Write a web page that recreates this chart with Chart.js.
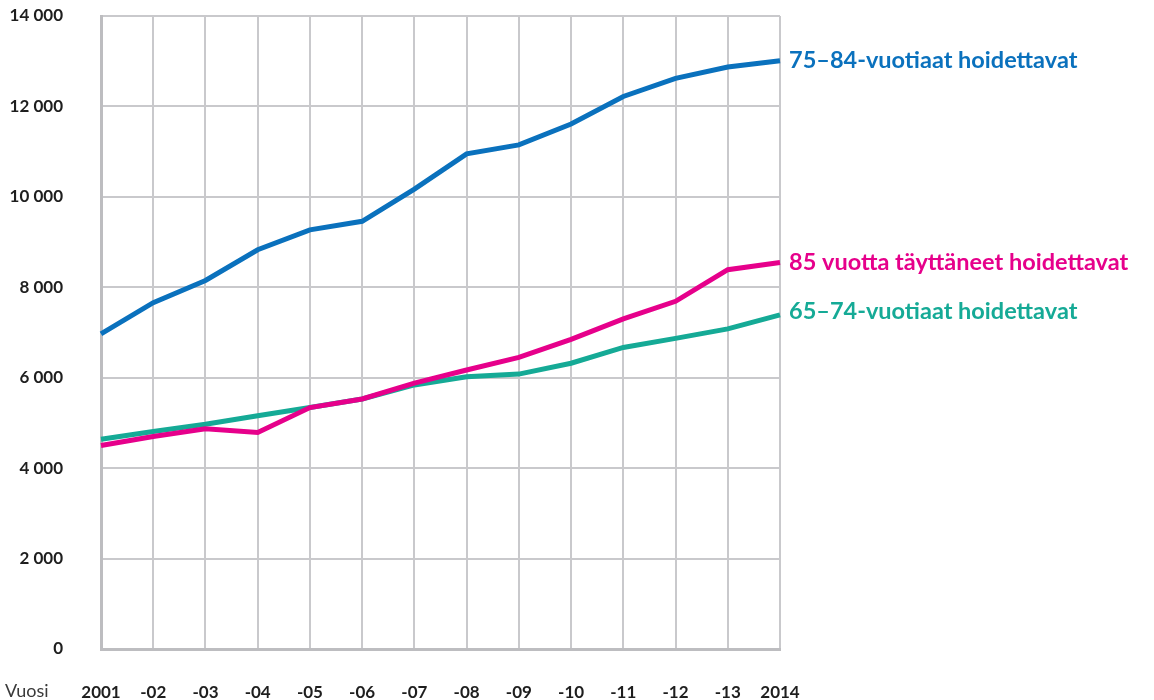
<!DOCTYPE html>
<html>
<head>
<meta charset="utf-8">
<script src="https://cdn.jsdelivr.net/npm/chart.js@4/dist/chart.umd.min.js"></script>
<style>
  html, body { margin: 0; padding: 0; background: #ffffff; }
  #wrap { width: 1154px; height: 700px; }
</style>
</head>
<body>
<div id="wrap"><canvas id="c" width="1154" height="700"></canvas></div>
<script>
const years = ['2001','-02','-03','-04','-05','-06','-07','-08','-09','-10','-11','-12','-13','2014'];
const seriesNames = ['75–84-vuotiaat hoidettavat', '85 vuotta täyttäneet hoidettavat', '65–74-vuotiaat hoidettavat'];
const age75to84 = [6970, 7660, 8150, 8830, 9270, 9460, 10170, 10950, 11150, 11610, 12220, 12620, 12870, 13010];
const age85plus = [4500, 4700, 4870, 4790, 5340, 5530, 5880, 6170, 6450, 6850, 7300, 7690, 8390, 8550];
const age65to74 = [4640, 4810, 4970, 5160, 5340, 5530, 5840, 6020, 6080, 6320, 6670, 6870, 7080, 7390];
const yTicks = [0, 2000, 4000, 6000, 8000, 10000, 12000, 14000];
const axisTitle = 'Vuosi';

const colors = ['#0a71bd', '#e6008b', '#15aa96'];
const FONT = 'Lato, "Open Sans", sans-serif';

function fmt(v) {
  if (v === 0) return '0';
  const s = String(v);
  return s.slice(0, s.length - 3) + ' ' + s.slice(-3);
}

const labelPlugin = {
  id: 'endLabels',
  afterDatasetsDraw(chart) {
    const ctx = chart.ctx;
    ctx.save();
    ctx.font = 'bold 23.5px ' + FONT;
    ctx.textBaseline = 'middle';
    ctx.textAlign = 'left';
    chart.data.datasets.forEach((ds, i) => {
      const meta = chart.getDatasetMeta(i);
      const pt = meta.data[meta.data.length - 1];
      ctx.fillStyle = ds.borderColor;
      ctx.fillText(ds.label, pt.x + 9, pt.y + (ds.labelShift || 0));
    });
    const xs = chart.scales.x;
    ctx.font = '18px ' + FONT;
    ctx.fillStyle = '#3a3a3a';
    ctx.textBaseline = 'middle';
    ctx.fillText(axisTitle, 5, xs.top + 33 + 9);
    ctx.restore();
  }
};

new Chart(document.getElementById('c'), {
  type: 'line',
  data: {
    labels: years,
    datasets: [
      { label: seriesNames[0], data: age75to84, borderColor: colors[0], backgroundColor: colors[0], labelShift: 0 },
      { label: seriesNames[1], data: age85plus, borderColor: colors[1], backgroundColor: colors[1], labelShift: 0 },
      { label: seriesNames[2], data: age65to74, borderColor: colors[2], backgroundColor: colors[2], labelShift: -3 }
    ]
  },
  options: {
    responsive: false,
    animation: false,
    devicePixelRatio: 1,
    layout: { padding: { left: 0, right: 374, top: 16, bottom: 0 } },
    elements: {
      line: { borderWidth: 5, tension: 0, borderJoinStyle: 'miter', borderCapStyle: 'butt' },
      point: { radius: 0, hoverRadius: 0 }
    },
    plugins: {
      legend: { display: false },
      tooltip: { enabled: false },
      title: { display: false }
    },
    scales: {
      x: {
        type: 'category',
        offset: false,
        afterFit(scale) { scale.height = 51; },
        grid: { color: '#c9c9cc', lineWidth: 2, drawTicks: false },
        border: { color: '#bdbdc0', width: 3 },
        ticks: {
          padding: 33,
          color: '#1e1e1e',
          font: { family: FONT, size: 17, weight: 'bold' },
          maxRotation: 0,
          autoSkip: false
        }
      },
      y: {
        min: 0,
        max: 14000,
        afterFit(scale) { scale.width = 101; },
        afterBuildTicks(scale) { scale.ticks = yTicks.map(v => ({ value: v })); },
        grid: { color: '#c9c9cc', lineWidth: 2, drawTicks: true, tickLength: 38, tickColor: 'rgba(0,0,0,0)' },
        border: { color: '#bdbdc0', width: 3 },
        ticks: {
          padding: 0,
          color: '#1e1e1e',
          font: { family: FONT, size: 17, weight: 'bold' },
          callback: (v) => fmt(v)
        }
      }
    }
  },
  plugins: [labelPlugin]
});
</script>
</body>
</html>
